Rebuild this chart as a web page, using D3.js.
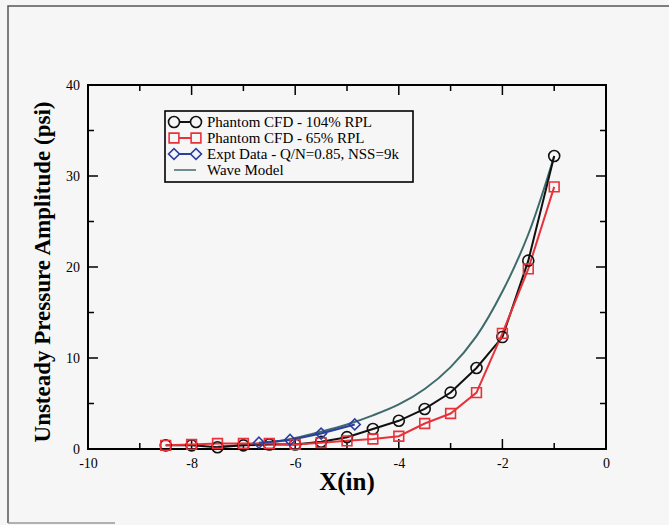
<!DOCTYPE html>
<html><head><meta charset="utf-8">
<script src="https://cdn.jsdelivr.net/npm/d3@7"></script>
<style>html,body{margin:0;padding:0;background:#f6f6f6;}svg{display:block;}</style>
</head><body>
<svg id="c" width="669" height="525"></svg>
<script>
// ---- data ----
const cfdX = [-8.5,-8,-7.5,-7,-6.5,-6,-5.5,-5,-4.5,-4,-3.5,-3,-2.5,-2,-1.5,-1];
const cfd104 = [0.4,0.4,0.2,0.4,0.5,0.5,0.8,1.3,2.2,3.1,4.4,6.2,8.9,12.3,20.7,32.2];
const cfd65  = [0.4,0.5,0.6,0.6,0.6,0.5,0.7,0.9,1.1,1.4,2.8,3.9,6.2,12.7,19.8,28.8];
const exptX = [-6.7,-6.1,-5.5,-4.85];
const exptY = [0.7,1.0,1.7,2.7];
const waveX = [-7.5,-7,-6.5,-6,-5.5,-5,-4.5,-4,-3.5,-3,-2.5,-2,-1.5,-1];
const waveY = [0.25,0.45,0.7,1.2,1.9,2.7,3.7,4.9,6.6,9.0,12.4,17.3,23.6,32.2];
const xTicks = [-10,-8,-6,-4,-2,0];
const yTicks = [0,10,20,30,40];
const legendLabels = ["Phantom CFD - 104% RPL","Phantom CFD - 65% RPL","Expt Data - Q/N=0.85, NSS=9k","Wave Model"];

const colBlack = "#111", colRed = "#e8323a", colBlue = "#2b3f9e", colWave = "#3f6a6c";
const svg = d3.select("#c");
const font = "'Liberation Serif','Times New Roman',serif";

// outer frame
svg.append("path").attr("d","M8,523 L8,6 L669,6").attr("fill","none").attr("stroke","#555").attr("stroke-width",1.5);
svg.append("line").attr("x1",8).attr("x2",115).attr("y1",523).attr("y2",523).attr("stroke","#999").attr("stroke-width",1.5);

const L=88,R=606,T=85,B=449;
const x = d3.scaleLinear().domain([-10,0]).range([L,R]);
const y = d3.scaleLinear().domain([0,40]).range([B,T]);

// ticks (inward) on all sides
const g = svg.append("g");
const xMinor = d3.range(-10,0.01,1), yMinor = d3.range(0,40.01,5);
xMinor.forEach(v=>{
  const len = (v%2===0)?10:6;
  g.append("line").attr("x1",x(v)).attr("x2",x(v)).attr("y1",B).attr("y2",B-len).attr("stroke","#000").attr("stroke-width",1.5);
  g.append("line").attr("x1",x(v)).attr("x2",x(v)).attr("y1",T).attr("y2",T+len).attr("stroke","#000").attr("stroke-width",1.5);
});
yMinor.forEach(v=>{
  const len = (v%10===0)?10:6;
  g.append("line").attr("y1",y(v)).attr("y2",y(v)).attr("x1",L).attr("x2",L+len).attr("stroke","#000").attr("stroke-width",1.5);
  g.append("line").attr("y1",y(v)).attr("y2",y(v)).attr("x1",R).attr("x2",R-len).attr("stroke","#000").attr("stroke-width",1.5);
});
g.append("rect").attr("x",L).attr("y",T).attr("width",R-L).attr("height",B-T).attr("fill","none").attr("stroke","#000").attr("stroke-width",2);

// tick labels via axes (no lines)
const xa = svg.append("g").attr("transform",`translate(0,${B})`).call(d3.axisBottom(x).tickValues(xTicks).tickSize(0).tickPadding(9).tickFormat(d3.format("d")));
const ya = svg.append("g").attr("transform",`translate(${L},0)`).call(d3.axisLeft(y).tickValues(yTicks).tickSize(0).tickPadding(8).tickFormat(d3.format("d")));
[xa,ya].forEach(a=>{a.select(".domain").remove(); a.selectAll("text").attr("font-family",font).attr("font-size",14).attr("fill","#000");});
xa.selectAll("text").text(d=>d===0?"0":"-"+Math.abs(d));

// axis titles
svg.append("text").attr("x",347).attr("y",490).attr("text-anchor","middle").attr("font-family",font).attr("font-size",25).attr("font-weight","bold").text("X(in)");
svg.append("text").attr("transform",`translate(50,272) rotate(-90)`).attr("text-anchor","middle").attr("font-family",font).attr("font-size",23).attr("font-weight","bold").text("Unsteady Pressure Amplitude (psi)");

// lines
const line = d3.line().x(d=>x(d[0])).y(d=>y(d[1]));
const waveLine = d3.line().x(d=>x(d[0])).y(d=>y(d[1])).curve(d3.curveCatmullRom);
const zip=(a,b)=>a.map((v,i)=>[v,b[i]]);
svg.append("path").datum(zip(waveX,waveY)).attr("d",waveLine).attr("fill","none").attr("stroke",colWave).attr("stroke-width",2);
svg.append("path").datum(zip(cfdX,cfd104)).attr("d",line).attr("fill","none").attr("stroke",colBlack).attr("stroke-width",2);
svg.append("path").datum(zip(cfdX,cfd65)).attr("d",line).attr("fill","none").attr("stroke",colRed).attr("stroke-width",2);
svg.append("path").datum(zip(exptX,exptY)).attr("d",line).attr("fill","none").attr("stroke",colBlue).attr("stroke-width",2);

const circ = d3.symbol().type(d3.symbolCircle).size(95);
const sq = d3.symbol().type(d3.symbolSquare).size(95);
const dia = d3.symbol().type(d3.symbolSquare).size(60);
const rot = [0,0,45];
function markers(data,sym,col,r){
  svg.append("g").selectAll("path").data(data).join("path")
    .attr("transform",d=>`translate(${x(d[0])},${y(d[1])}) rotate(${r})`).attr("d",sym)
    .attr("fill","none").attr("stroke",col).attr("stroke-width",1.6);
}
markers(zip(cfdX,cfd104),circ,colBlack,0);
markers(zip(cfdX,cfd65),sq,colRed,0);
markers(zip(exptX,exptY),dia,colBlue,45);

// legend
const lg = svg.append("g");
lg.append("rect").attr("x",165).attr("y",111).attr("width",248).attr("height",71).attr("fill","#f6f6f6").attr("stroke","#000").attr("stroke-width",1.6);
const rows=[122,138,154,170];
const syms=[circ,sq,dia,null], cols=[colBlack,colRed,colBlue,colWave];
rows.forEach((ry,i)=>{
  lg.append("line").attr("x1",174).attr("x2",196).attr("y1",ry).attr("y2",ry).attr("stroke",cols[i]).attr("stroke-width",i===3?1.5:2);
  if(syms[i]){[174,196].forEach(px=>lg.append("path").attr("transform",`translate(${px},${ry}) rotate(${rot[i]})`).attr("d",syms[i]).attr("fill","#f6f6f6").attr("stroke",cols[i]).attr("stroke-width",1.6));}
  lg.append("text").attr("x",207).attr("y",ry+5).attr("font-family",font).attr("font-size",15).attr("fill","#000").text(legendLabels[i]);
});
</script>
</body></html>
